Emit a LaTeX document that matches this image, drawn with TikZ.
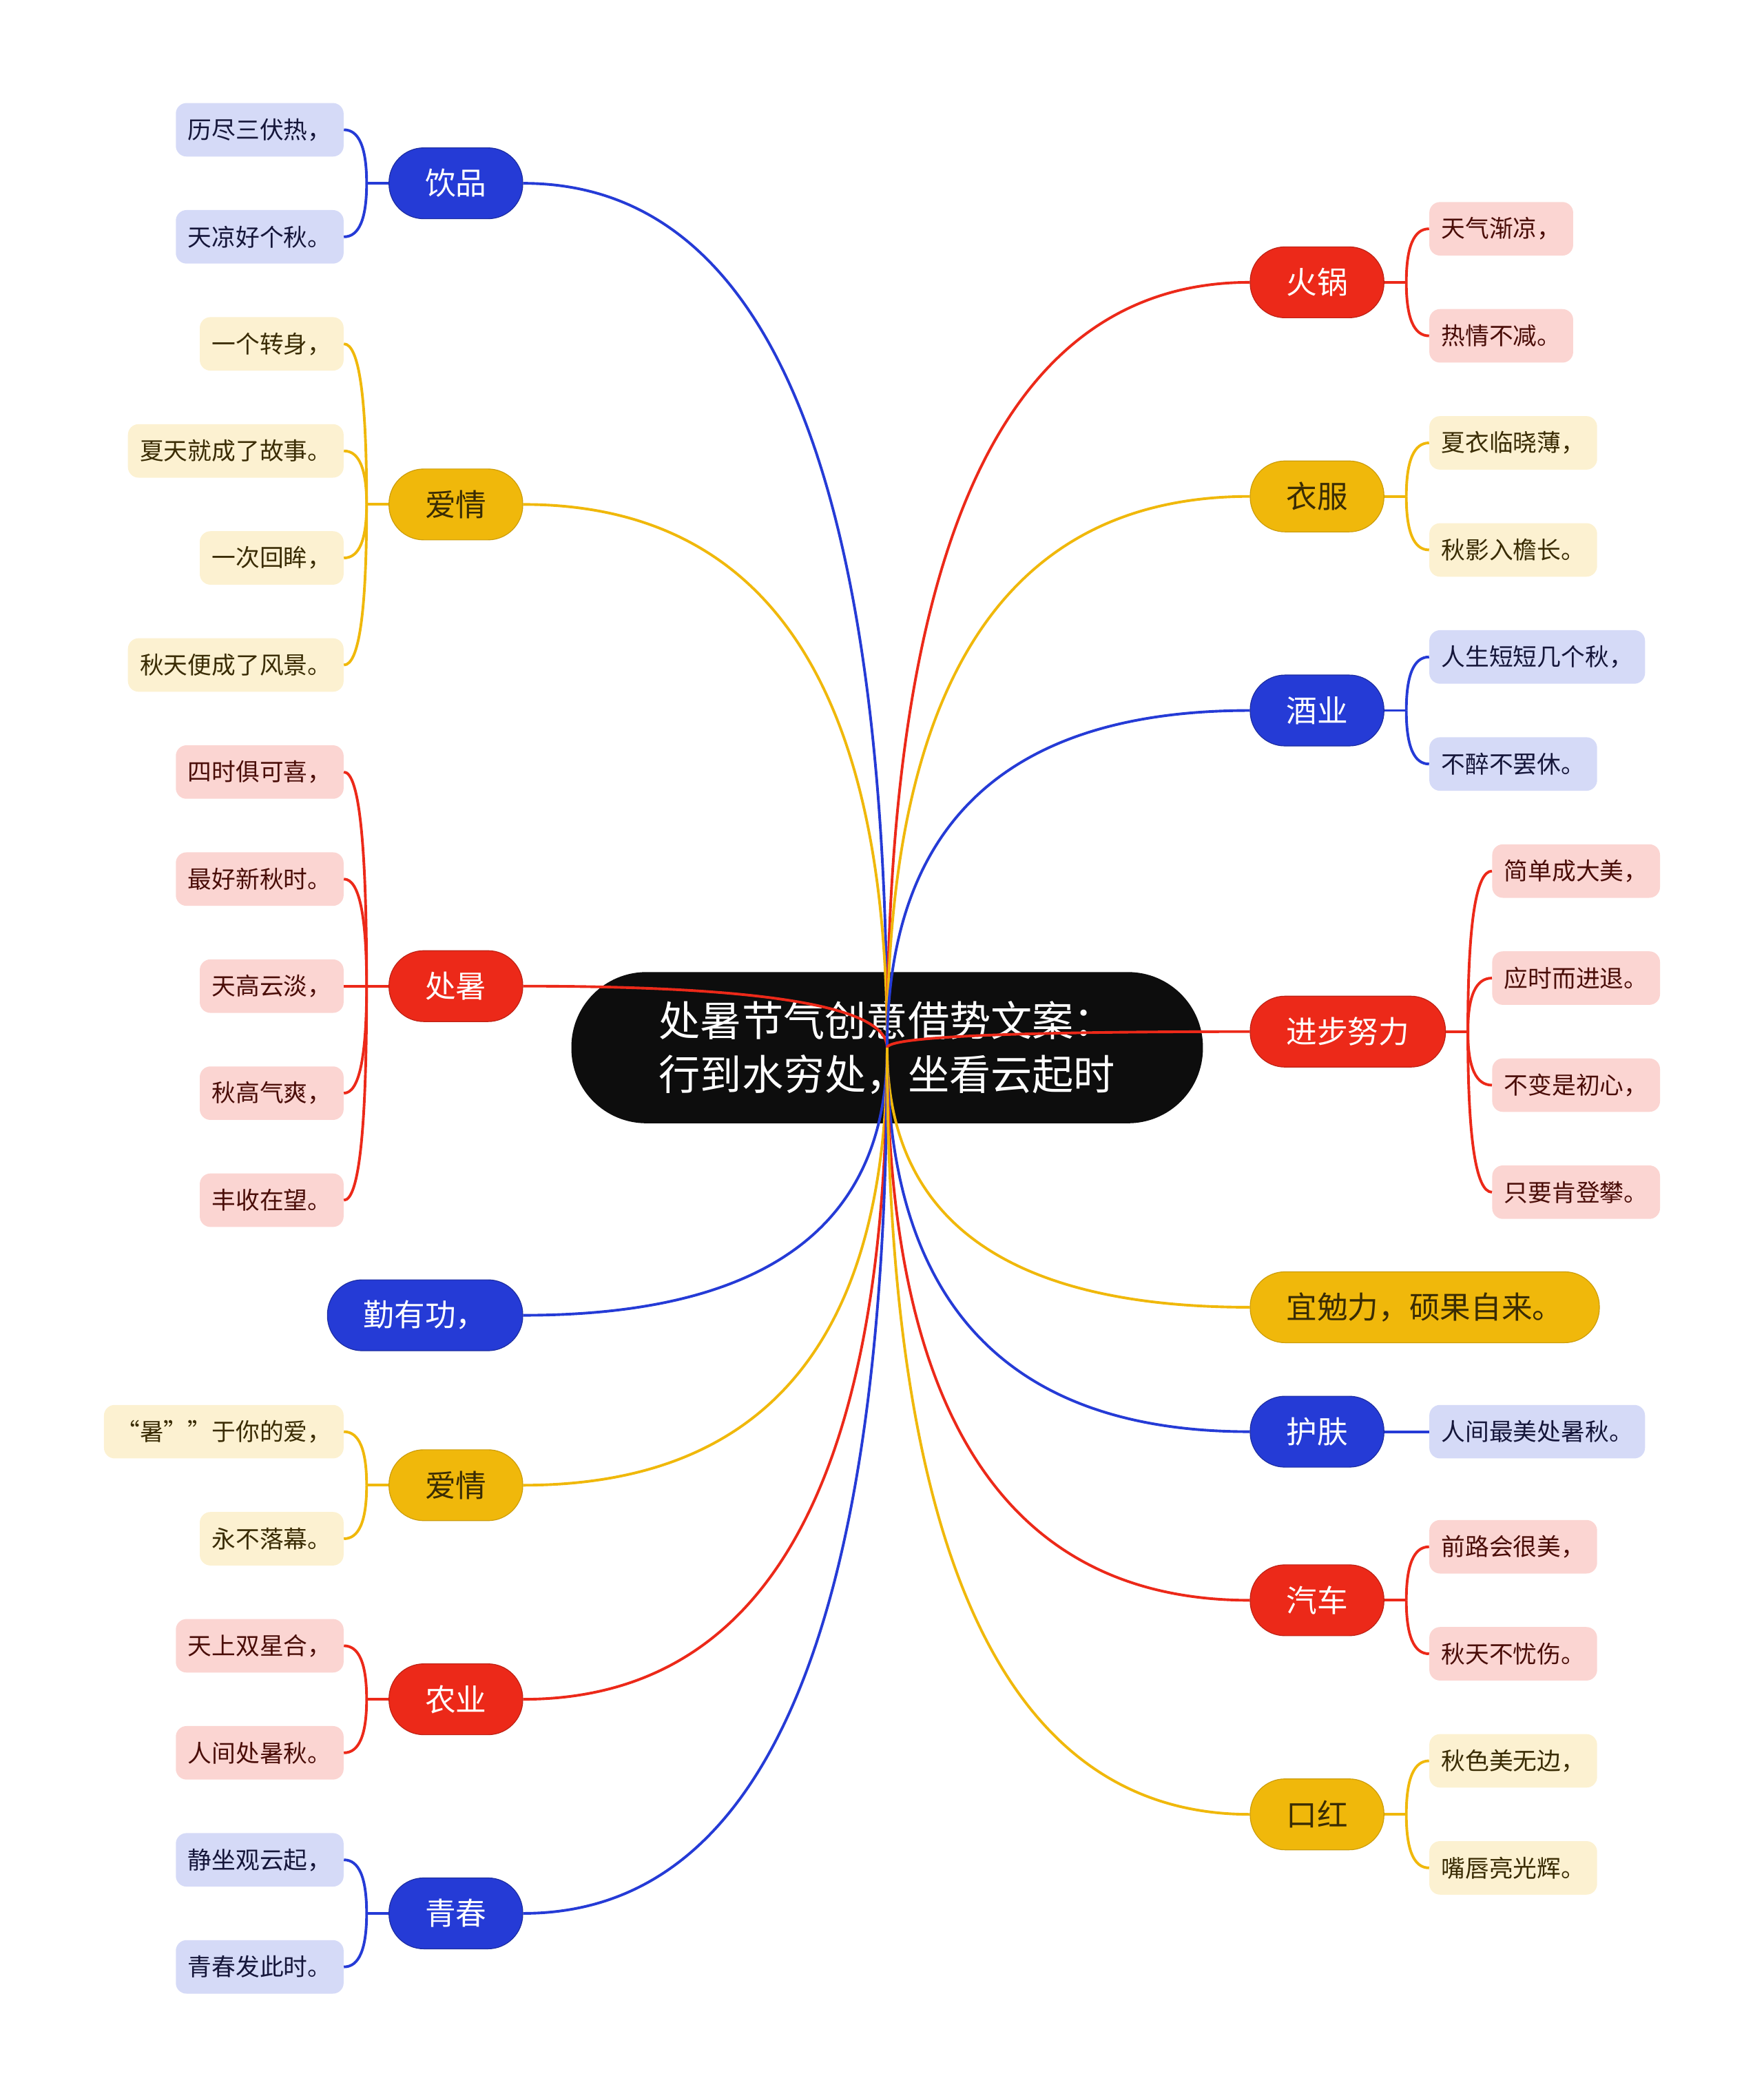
\documentclass[tikz,border=0pt]{standalone}
\usepackage{fontspec}
\setmainfont{Noto Sans CJK SC}
\usepackage{color}
\usepackage{tikz}
\usetikzlibrary{calc}
\definecolor{topicblue}{HTML}{253BD6}
\definecolor{topicred}{HTML}{EC2919}
\definecolor{topicyellow}{HTML}{F0B80B}
\definecolor{leafblue}{HTML}{D5DAF7}
\definecolor{leafred}{HTML}{FBD5D2}
\definecolor{leafyellow}{HTML}{FCF1D1}
\definecolor{inkblue}{HTML}{15163A}
\definecolor{inkred}{HTML}{4A0D08}
\definecolor{inkyellow}{HTML}{3A2C04}
\tikzstyle{title box}=[rectangle,rounded corners=56pt,fill=black!95,text=white,minimum width=472pt,minimum height=113pt,align=center,font=\fontsize{31}{40}\selectfont]
\tikzstyle{topic}=[rectangle,rounded corners=26pt,minimum height=53pt,inner xsep=27pt,line width=.6pt,font=\fontsize{23}{23}\selectfont]
\tikzstyle{blue topic}=[topic,fill=topicblue,draw=topicblue!75!black,text=white]
\tikzstyle{red topic}=[topic,fill=topicred,draw=topicred!80!black,text=white]
\tikzstyle{yellow topic}=[topic,fill=topicyellow,draw=topicyellow!85!black,text=inkyellow]
\tikzstyle{leaf box}=[rectangle,rounded corners=8pt,minimum height=40pt,inner xsep=9pt,font=\fontsize{17.9}{17.9}\selectfont]
\tikzstyle{blue leaf}=[leaf box,fill=leafblue,text=inkblue]
\tikzstyle{red leaf}=[leaf box,fill=leafred,text=inkred]
\tikzstyle{yellow leaf}=[leaf box,fill=leafyellow,text=inkyellow]
\tikzstyle{blue edge}=[draw=topicblue,line width=2pt]
\tikzstyle{red edge}=[draw=topicred,line width=2pt]
\tikzstyle{yellow edge}=[draw=topicyellow,line width=2pt]

\begin{document}
\begin{tikzpicture}[x=1pt,y=-1pt]
        \useasboundingbox (0,0) rectangle (1318,1568);
        \node[title box] (root) at (663,783) {处暑节气创意借势文案：\\行到水穷处，坐看云起时};

        % left topics
        \node[blue topic,anchor=east] (yp) at (391,137) {饮品};
        \node[yellow topic,anchor=east] (aq) at (391,377) {爱情};
        \node[red topic,anchor=east] (cs) at (391,737) {处暑};
        \node[blue topic,anchor=east] (qyg) at (391,983) {勤有功，};
        \node[yellow topic,anchor=east] (aq2) at (391,1110) {爱情};
        \node[red topic,anchor=east] (ny) at (391,1270) {农业};
        \node[blue topic,anchor=east] (qcun) at (391,1430) {青春};

        % right topics
        \node[red topic,anchor=west] (hg) at (934,211) {火锅};
        \node[yellow topic,anchor=west] (yf) at (934,371) {衣服};
        \node[blue topic,anchor=west] (jy) at (934,531) {酒业};
        \node[red topic,anchor=west] (jb) at (934,771) {进步努力};
        \node[yellow topic,anchor=west] (yml) at (934,977) {宜勉力，硕果自来。};
        \node[blue topic,anchor=west] (hf) at (934,1070) {护肤};
        \node[red topic,anchor=west] (qche) at (934,1196) {汽车};
        \node[yellow topic,anchor=west] (kh) at (934,1356) {口红};

        % left leaves
        \node[blue leaf,anchor=east] (yp1) at (257,97) {历尽三伏热，};
        \node[blue leaf,anchor=east] (yp2) at (257,177) {天凉好个秋。};
        \node[yellow leaf,anchor=east] (aq1) at (257,257) {一个转身，};
        \node[yellow leaf,anchor=east] (aq2a) at (257,337) {夏天就成了故事。};
        \node[yellow leaf,anchor=east] (aq3) at (257,417) {一次回眸，};
        \node[yellow leaf,anchor=east] (aq4) at (257,497) {秋天便成了风景。};
        \node[red leaf,anchor=east] (cs1) at (257,577) {四时俱可喜，};
        \node[red leaf,anchor=east] (cs2) at (257,657) {最好新秋时。};
        \node[red leaf,anchor=east] (cs3) at (257,737) {天高云淡，};
        \node[red leaf,anchor=east] (cs4) at (257,817) {秋高气爽，};
        \node[red leaf,anchor=east] (cs5) at (257,897) {丰收在望。};
        \node[yellow leaf,anchor=east] (aq2b) at (257,1070) {“暑””于你的爱，};
        \node[yellow leaf,anchor=east] (aq2c) at (257,1150) {永不落幕。};
        \node[red leaf,anchor=east] (ny1) at (257,1230) {天上双星合，};
        \node[red leaf,anchor=east] (ny2) at (257,1310) {人间处暑秋。};
        \node[blue leaf,anchor=east] (qcun1) at (257,1390) {静坐观云起，};
        \node[blue leaf,anchor=east] (qcun2) at (257,1470) {青春发此时。};

        % right leaves
        \node[red leaf,anchor=west] (hg1) at (1068,171) {天气渐凉，};
        \node[red leaf,anchor=west] (hg2) at (1068,251) {热情不减。};
        \node[yellow leaf,anchor=west] (yf1) at (1068,331) {夏衣临晓薄，};
        \node[yellow leaf,anchor=west] (yf2) at (1068,411) {秋影入檐长。};
        \node[blue leaf,anchor=west] (jy1) at (1068,491) {人生短短几个秋，};
        \node[blue leaf,anchor=west] (jy2) at (1068,571) {不醉不罢休。};
        \node[red leaf,anchor=west] (jb1) at (1115,651) {简单成大美，};
        \node[red leaf,anchor=west] (jb2) at (1115,731) {应时而进退。};
        \node[red leaf,anchor=west] (jb3) at (1115,811) {不变是初心，};
        \node[red leaf,anchor=west] (jb4) at (1115,891) {只要肯登攀。};
        \node[blue leaf,anchor=west] (hf1) at (1068,1070) {人间最美处暑秋。};
        \node[red leaf,anchor=west] (qche1) at (1068,1156) {前路会很美，};
        \node[red leaf,anchor=west] (qche2) at (1068,1236) {秋天不忧伤。};
        \node[yellow leaf,anchor=west] (kh1) at (1068,1316) {秋色美无边，};
        \node[yellow leaf,anchor=west] (kh2) at (1068,1396) {嘴唇亮光辉。};

        % branches from the title
        \draw[blue edge] (root.center) .. controls ($(root.center)!.667!(root.center |- yp.east)$) and ($(yp.east)!.667!(root.center |- yp.east)$) .. (yp.east);
        \draw[yellow edge] (root.center) .. controls ($(root.center)!.667!(root.center |- aq.east)$) and ($(aq.east)!.667!(root.center |- aq.east)$) .. (aq.east);
        \draw[red edge] (root.center) .. controls ($(root.center)!.667!(root.center |- cs.east)$) and ($(cs.east)!.667!(root.center |- cs.east)$) .. (cs.east);
        \draw[blue edge] (root.center) .. controls ($(root.center)!.667!(root.center |- qyg.east)$) and ($(qyg.east)!.667!(root.center |- qyg.east)$) .. (qyg.east);
        \draw[yellow edge] (root.center) .. controls ($(root.center)!.667!(root.center |- aq2.east)$) and ($(aq2.east)!.667!(root.center |- aq2.east)$) .. (aq2.east);
        \draw[red edge] (root.center) .. controls ($(root.center)!.667!(root.center |- ny.east)$) and ($(ny.east)!.667!(root.center |- ny.east)$) .. (ny.east);
        \draw[blue edge] (root.center) .. controls ($(root.center)!.667!(root.center |- qcun.east)$) and ($(qcun.east)!.667!(root.center |- qcun.east)$) .. (qcun.east);
        \draw[red edge] (root.center) .. controls ($(root.center)!.667!(root.center |- hg.west)$) and ($(hg.west)!.667!(root.center |- hg.west)$) .. (hg.west);
        \draw[yellow edge] (root.center) .. controls ($(root.center)!.667!(root.center |- yf.west)$) and ($(yf.west)!.667!(root.center |- yf.west)$) .. (yf.west);
        \draw[blue edge] (root.center) .. controls ($(root.center)!.667!(root.center |- jy.west)$) and ($(jy.west)!.667!(root.center |- jy.west)$) .. (jy.west);
        \draw[red edge] (root.center) .. controls ($(root.center)!.667!(root.center |- jb.west)$) and ($(jb.west)!.667!(root.center |- jb.west)$) .. (jb.west);
        \draw[yellow edge] (root.center) .. controls ($(root.center)!.667!(root.center |- yml.west)$) and ($(yml.west)!.667!(root.center |- yml.west)$) .. (yml.west);
        \draw[blue edge] (root.center) .. controls ($(root.center)!.667!(root.center |- hf.west)$) and ($(hf.west)!.667!(root.center |- hf.west)$) .. (hf.west);
        \draw[red edge] (root.center) .. controls ($(root.center)!.667!(root.center |- qche.west)$) and ($(qche.west)!.667!(root.center |- qche.west)$) .. (qche.west);
        \draw[yellow edge] (root.center) .. controls ($(root.center)!.667!(root.center |- kh.west)$) and ($(kh.west)!.667!(root.center |- kh.west)$) .. (kh.west);

        % forks
        \coordinate (yp-f) at (274,137);
        \coordinate (aq-f) at (274,377);
        \coordinate (cs-f) at (274,737);
        \coordinate (aq2-f) at (274,1110);
        \coordinate (ny-f) at (274,1270);
        \coordinate (qcun-f) at (274,1430);
        \coordinate (hg-f) at (1051,211);
        \coordinate (yf-f) at (1051,371);
        \coordinate (jy-f) at (1051,531);
        \coordinate (jb-f) at (1097,771);
        \coordinate (qche-f) at (1051,1196);
        \coordinate (kh-f) at (1051,1356);

        \draw[blue edge] (yp.west) -- (yp-f);
        \draw[blue edge] (yp-f) .. controls ($(yp-f)!.667!(yp-f |- yp1.east)$) and ($(yp1.east)!.667!(yp-f |- yp1.east)$) .. (yp1.east);
        \draw[blue edge] (yp-f) .. controls ($(yp-f)!.667!(yp-f |- yp2.east)$) and ($(yp2.east)!.667!(yp-f |- yp2.east)$) .. (yp2.east);
        \draw[yellow edge] (aq.west) -- (aq-f);
        \draw[yellow edge] (aq-f) .. controls ($(aq-f)!.667!(aq-f |- aq1.east)$) and ($(aq1.east)!.667!(aq-f |- aq1.east)$) .. (aq1.east);
        \draw[yellow edge] (aq-f) .. controls ($(aq-f)!.667!(aq-f |- aq2a.east)$) and ($(aq2a.east)!.667!(aq-f |- aq2a.east)$) .. (aq2a.east);
        \draw[yellow edge] (aq-f) .. controls ($(aq-f)!.667!(aq-f |- aq3.east)$) and ($(aq3.east)!.667!(aq-f |- aq3.east)$) .. (aq3.east);
        \draw[yellow edge] (aq-f) .. controls ($(aq-f)!.667!(aq-f |- aq4.east)$) and ($(aq4.east)!.667!(aq-f |- aq4.east)$) .. (aq4.east);
        \draw[red edge] (cs.west) -- (cs-f);
        \draw[red edge] (cs-f) .. controls ($(cs-f)!.667!(cs-f |- cs1.east)$) and ($(cs1.east)!.667!(cs-f |- cs1.east)$) .. (cs1.east);
        \draw[red edge] (cs-f) .. controls ($(cs-f)!.667!(cs-f |- cs2.east)$) and ($(cs2.east)!.667!(cs-f |- cs2.east)$) .. (cs2.east);
        \draw[red edge] (cs-f) -- (cs3.east);
        \draw[red edge] (cs-f) .. controls ($(cs-f)!.667!(cs-f |- cs4.east)$) and ($(cs4.east)!.667!(cs-f |- cs4.east)$) .. (cs4.east);
        \draw[red edge] (cs-f) .. controls ($(cs-f)!.667!(cs-f |- cs5.east)$) and ($(cs5.east)!.667!(cs-f |- cs5.east)$) .. (cs5.east);
        \draw[yellow edge] (aq2.west) -- (aq2-f);
        \draw[yellow edge] (aq2-f) .. controls ($(aq2-f)!.667!(aq2-f |- aq2b.east)$) and ($(aq2b.east)!.667!(aq2-f |- aq2b.east)$) .. (aq2b.east);
        \draw[yellow edge] (aq2-f) .. controls ($(aq2-f)!.667!(aq2-f |- aq2c.east)$) and ($(aq2c.east)!.667!(aq2-f |- aq2c.east)$) .. (aq2c.east);
        \draw[red edge] (ny.west) -- (ny-f);
        \draw[red edge] (ny-f) .. controls ($(ny-f)!.667!(ny-f |- ny1.east)$) and ($(ny1.east)!.667!(ny-f |- ny1.east)$) .. (ny1.east);
        \draw[red edge] (ny-f) .. controls ($(ny-f)!.667!(ny-f |- ny2.east)$) and ($(ny2.east)!.667!(ny-f |- ny2.east)$) .. (ny2.east);
        \draw[blue edge] (qcun.west) -- (qcun-f);
        \draw[blue edge] (qcun-f) .. controls ($(qcun-f)!.667!(qcun-f |- qcun1.east)$) and ($(qcun1.east)!.667!(qcun-f |- qcun1.east)$) .. (qcun1.east);
        \draw[blue edge] (qcun-f) .. controls ($(qcun-f)!.667!(qcun-f |- qcun2.east)$) and ($(qcun2.east)!.667!(qcun-f |- qcun2.east)$) .. (qcun2.east);

        \draw[red edge] (hg.east) -- (hg-f);
        \draw[red edge] (hg-f) .. controls ($(hg-f)!.667!(hg-f |- hg1.west)$) and ($(hg1.west)!.667!(hg-f |- hg1.west)$) .. (hg1.west);
        \draw[red edge] (hg-f) .. controls ($(hg-f)!.667!(hg-f |- hg2.west)$) and ($(hg2.west)!.667!(hg-f |- hg2.west)$) .. (hg2.west);
        \draw[yellow edge] (yf.east) -- (yf-f);
        \draw[yellow edge] (yf-f) .. controls ($(yf-f)!.667!(yf-f |- yf1.west)$) and ($(yf1.west)!.667!(yf-f |- yf1.west)$) .. (yf1.west);
        \draw[yellow edge] (yf-f) .. controls ($(yf-f)!.667!(yf-f |- yf2.west)$) and ($(yf2.west)!.667!(yf-f |- yf2.west)$) .. (yf2.west);
        \draw[blue edge] (jy.east) -- (jy-f);
        \draw[blue edge] (jy-f) .. controls ($(jy-f)!.667!(jy-f |- jy1.west)$) and ($(jy1.west)!.667!(jy-f |- jy1.west)$) .. (jy1.west);
        \draw[blue edge] (jy-f) .. controls ($(jy-f)!.667!(jy-f |- jy2.west)$) and ($(jy2.west)!.667!(jy-f |- jy2.west)$) .. (jy2.west);
        \draw[red edge] (jb.east) -- (jb-f);
        \draw[red edge] (jb-f) .. controls ($(jb-f)!.667!(jb-f |- jb1.west)$) and ($(jb1.west)!.667!(jb-f |- jb1.west)$) .. (jb1.west);
        \draw[red edge] (jb-f) .. controls ($(jb-f)!.667!(jb-f |- jb2.west)$) and ($(jb2.west)!.667!(jb-f |- jb2.west)$) .. (jb2.west);
        \draw[red edge] (jb-f) .. controls ($(jb-f)!.667!(jb-f |- jb3.west)$) and ($(jb3.west)!.667!(jb-f |- jb3.west)$) .. (jb3.west);
        \draw[red edge] (jb-f) .. controls ($(jb-f)!.667!(jb-f |- jb4.west)$) and ($(jb4.west)!.667!(jb-f |- jb4.west)$) .. (jb4.west);
        \draw[blue edge] (hf.east) -- (hf1.west);
        \draw[red edge] (qche.east) -- (qche-f);
        \draw[red edge] (qche-f) .. controls ($(qche-f)!.667!(qche-f |- qche1.west)$) and ($(qche1.west)!.667!(qche-f |- qche1.west)$) .. (qche1.west);
        \draw[red edge] (qche-f) .. controls ($(qche-f)!.667!(qche-f |- qche2.west)$) and ($(qche2.west)!.667!(qche-f |- qche2.west)$) .. (qche2.west);
        \draw[yellow edge] (kh.east) -- (kh-f);
        \draw[yellow edge] (kh-f) .. controls ($(kh-f)!.667!(kh-f |- kh1.west)$) and ($(kh1.west)!.667!(kh-f |- kh1.west)$) .. (kh1.west);
        \draw[yellow edge] (kh-f) .. controls ($(kh-f)!.667!(kh-f |- kh2.west)$) and ($(kh2.west)!.667!(kh-f |- kh2.west)$) .. (kh2.west);
      \end{tikzpicture}
\end{document}
